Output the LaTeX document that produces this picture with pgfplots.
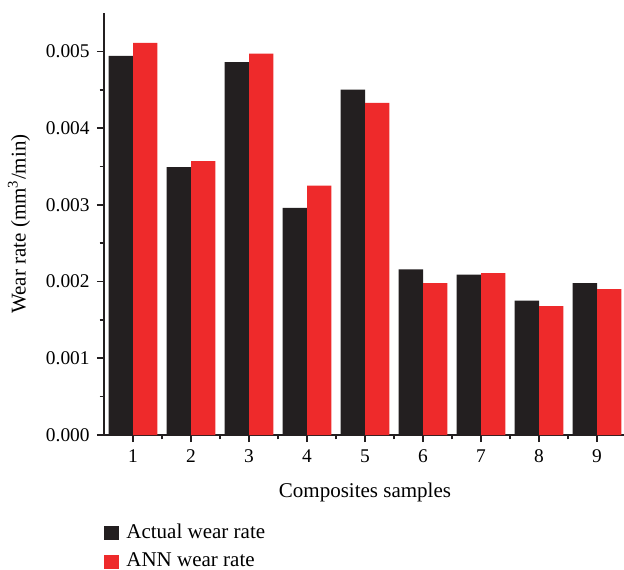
\documentclass[border=0pt]{standalone}
\usepackage{fontspec}
\setmainfont{Liberation Serif}
\usepackage{pgfplots}
\pgfplotsset{compat=1.18}
\definecolor{actualc}{HTML}{231F20}
\definecolor{annc}{HTML}{EE2A2B}
\begin{document}
\fontsize{10.5}{12.5}\selectfont
\begin{tikzpicture}
\begin{axis}[
  name=ax,
  scale only axis,
  width=261pt, height=211pt,
  xmin=0.5, xmax=9.5,
  ymin=0, ymax=0.0055,
  axis x line*=bottom, axis y line*=left,
  axis line style={line width=0.9pt, color=actualc},
  ybar=0pt, bar width=0.42,
  xtick={1,...,9},
  minor x tick num=1,
  ytick={0,0.001,0.002,0.003,0.004,0.005},
  minor y tick num=1,
  tick align=outside,
  major tick length=3.5pt, minor tick length=2.2pt,
  every tick/.style={line width=0.8pt, color=actualc},
  scaled y ticks=false,
  yticklabel style={/pgf/number format/.cd, fixed, fixed zerofill, precision=3, assume math mode=true},
  xticklabel style={/pgf/number format/assume math mode=true},
  ticklabel style={font=\fontsize{9.7}{11.5}\selectfont},
  xlabel={Composites samples},
  ylabel={Wear rate (mm\textsuperscript{3}/min)},
  label style={font=\fontsize{10.5}{12.5}\selectfont},
  x label style={at={(axis description cs:0.5,-0.135)}, anchor=center},
  y label style={at={(axis description cs:-0.163,0.5)}, anchor=center},
  legend style={at={(rel axis cs:0,-0.2)}, anchor=north west, draw=none, fill=none,
    font=\fontsize{10.5}{12.5}\selectfont, row sep=1.8pt, inner sep=0pt,
    /tikz/every odd column/.append style={column sep=1.5pt}},
  legend cell align=left,
  legend image code/.code={\fill[#1,draw=none] (0pt,-3.5pt) rectangle (7.5pt,3.5pt);},
]
\addplot[fill=actualc, draw=none] coordinates {
  (1,0.00494) (2,0.00349) (3,0.00486) (4,0.00296) (5,0.00450)
  (6,0.00216) (7,0.00209) (8,0.00175) (9,0.00198)};
\addlegendentry{Actual wear rate}
\addplot[fill=annc, draw=none] coordinates {
  (1,0.00511) (2,0.00357) (3,0.00497) (4,0.00325) (5,0.00433)
  (6,0.00198) (7,0.00211) (8,0.00168) (9,0.00190)};
\addlegendentry{ANN wear rate}
\end{axis}
\pgfresetboundingbox
\path (ax.south west) ++(-52pt,-67pt) rectangle ++(312pt,284.5pt);
\end{tikzpicture}
\end{document}
